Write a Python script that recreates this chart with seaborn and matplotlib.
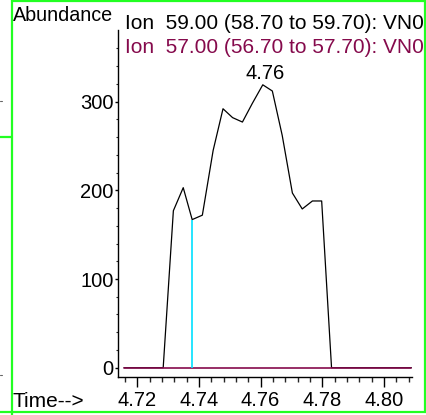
import matplotlib
matplotlib.use("Agg")
import matplotlib.pyplot as plt
import seaborn as sns
import pandas as pd
from matplotlib.lines import Line2D
from matplotlib.ticker import FixedLocator, NullFormatter

# ---- data ----
times = [4.7157, 4.7189, 4.7221, 4.7253, 4.7284, 4.7317, 4.7349, 4.7378,
         4.7411, 4.7446, 4.7478, 4.7509, 4.7541, 4.7573, 4.7607, 4.7638,
         4.7670, 4.7703, 4.7735, 4.7768, 4.7798, 4.7830, 4.7862, 4.7894,
         4.7926, 4.7958, 4.7990, 4.8022, 4.8054, 4.8089]
ion59 = [0, 0, 0, 0, 0, 177, 203, 167,
         172, 245, 292, 282, 277, 298, 319, 312,
         262, 197, 179, 188, 188, 0, 0, 0,
         0, 0, 0, 0, 0, 0]
ion57 = [0] * len(times)
marker_time = 4.7378
marker_value = 167
peak_time = 4.7607
peak_value = 319
peak_label = "4.76"
x_major = [4.72, 4.74, 4.76, 4.78, 4.80]
x_labels = ["4.72", "4.74", "4.76", "4.78", "4.80"]
x_minor = [4.716, 4.724, 4.728, 4.732, 4.736, 4.744, 4.748, 4.752, 4.756,
           4.764, 4.768, 4.772, 4.776, 4.784, 4.788, 4.792, 4.796, 4.804, 4.808]
y_major = [0, 100, 200, 300]
y_minor = [20, 40, 60, 80, 120, 140, 160, 180, 220, 240, 260, 280, 320, 340, 360]
title1 = "Ion  59.00 (58.70 to 59.70): VN0"
title2 = "Ion  57.00 (56.70 to 57.70): VN0"

df59 = pd.DataFrame({"time": times, "abundance": ion59})
df57 = pd.DataFrame({"time": times, "abundance": ion57})

# ---- style ----
sns.set_theme(style="white")
plt.rcParams["font.family"] = ["Liberation Sans", "DejaVu Sans"]

W, H = 427, 415
fig = plt.figure(figsize=(W / 100, H / 100), dpi=100)
fig.patch.set_facecolor("white")

def fx(px):
    return px / W

def fy(py):
    return 1 - py / H

ax = fig.add_axes([fx(118.3), fy(376.7), fx(411.7) - fx(118.3), fy(30) - fy(376.7)])
ax.set_facecolor("white")

maroon = "#850A4C"
sns.lineplot(data=df59, x="time", y="abundance", ax=ax, color="black",
             linewidth=0.9, estimator=None, sort=False)
sns.lineplot(data=df57, x="time", y="abundance", ax=ax, color=maroon,
             linewidth=1.2, estimator=None, sort=False)
ax.vlines(marker_time, 0, marker_value, color="#00E0FF", linewidth=1.2, zorder=3)

ax.annotate(peak_label, xy=(peak_time, peak_value), xytext=(1.5, 4),
            textcoords="offset points", ha="center", va="baseline", fontsize=14.5,
            color="black")

ax.set_xlim(4.71384, 4.8090)
ax.set_ylim(-10.15, 380.8)
ax.set_xlabel("")
ax.set_ylabel("")

for s in ["top", "right"]:
    ax.spines[s].set_visible(False)
for s in ["left", "bottom"]:
    ax.spines[s].set_color("black")
    ax.spines[s].set_linewidth(1.0)

ax.xaxis.set_major_locator(FixedLocator(x_major))
ax.set_xticklabels(x_labels)
ax.xaxis.set_minor_locator(FixedLocator(x_minor))
ax.xaxis.set_minor_formatter(NullFormatter())
ax.yaxis.set_major_locator(FixedLocator(y_major))
ax.yaxis.set_minor_locator(FixedLocator(y_minor))
ax.yaxis.set_minor_formatter(NullFormatter())

ax.tick_params(axis="x", which="major", direction="out", length=7.2, width=1.0,
               pad=3, labelsize=14.5, colors="black", bottom=True)
ax.tick_params(axis="x", which="minor", direction="out", length=3.6, width=1.0,
               bottom=True)
ax.tick_params(axis="y", which="major", direction="out", length=2.5, width=1.0,
               pad=1, labelsize=14.5, colors="black", left=True)
ax.tick_params(axis="y", which="minor", direction="out", length=1.5, width=0.8,
               left=True)

# ---- figure texts ----
fig.text(fx(13), fy(20.7), "Abundance", ha="left", va="baseline", fontsize=14.2,
         color="black")
fig.text(fx(125), fy(29.3), title1, ha="left", va="baseline", fontsize=15,
         color="black")
fig.text(fx(125), fy(52.7), title2, ha="left", va="baseline", fontsize=15,
         color=maroon)
fig.text(fx(13), fy(406.7), "Time-->", ha="left", va="baseline", fontsize=15,
         color="black")

# ---- green frame ----
green = "#22FF22"
lines = [
    ([12, 12], [0, 415]),
    ([12, 425], [1, 1]),
    ([425, 425], [0, 412]),
    ([0, 427], [411.5, 411.5]),
    ([0, 12], [137, 137]),
]
for xs, ys in lines:
    fig.add_artist(Line2D([fx(v) for v in xs], [fy(v) for v in ys],
                          transform=fig.transFigure, color=green, linewidth=1.6))
for yy in (101, 375):
    fig.add_artist(Line2D([fx(0), fx(2)], [fy(yy), fy(yy)], transform=fig.transFigure,
                          color="#666666", linewidth=0.8))

fig.savefig("out.png", dpi=100)
